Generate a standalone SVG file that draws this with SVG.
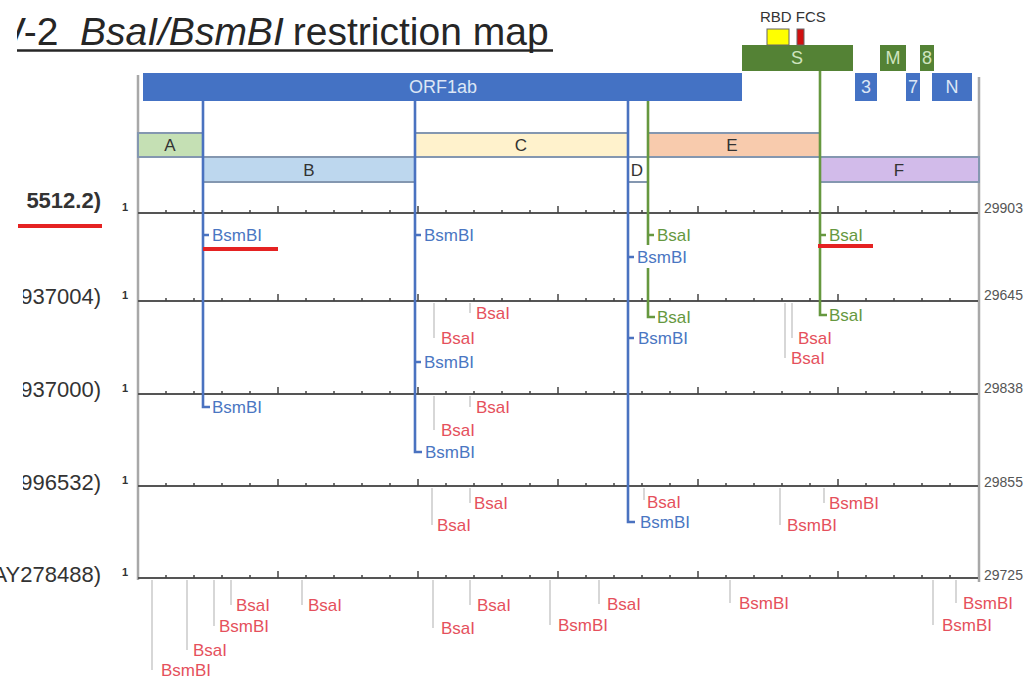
<svg xmlns="http://www.w3.org/2000/svg" xmlns:xlink="http://www.w3.org/1999/xlink" width="1026" height="679" viewBox="0 0 1026 679">
<defs>
<style>
text{font-family:"Liberation Sans",Arial,sans-serif}
.site{font-size:17px}
.r{fill:#e5505c}
.b{fill:#4a76c2}
.g{fill:#66983f}
.ld{stroke:#c2c2c2;stroke-width:1.3;fill:none}
.bl{stroke:#4a72c0;stroke-width:2.6;fill:none}
.gl{stroke:#66983f;stroke-width:2.6;fill:none}
.ax{stroke:#555;stroke-width:2}
.tk{stroke:#444;stroke-width:1.5;fill:none}
.fr{stroke:#a8a8a8;stroke-width:2.5}
.seg{stroke:#8497b0;stroke-width:2}
.ul{stroke:#e52222;stroke-width:4}
.gene{font-size:18px;text-anchor:middle}
.gb{fill:#dce6f5}
.gg{fill:#cfe4bf}
.segt{font-size:17px;text-anchor:middle;fill:#333}
.one{font-size:11px;font-weight:bold;text-anchor:middle;fill:#333}
.len{font-size:14px;fill:#555}
.acc{font-size:22px;text-anchor:end;fill:#333}
</style>
<clipPath id="clipTitle"><rect x="17" y="0" width="600" height="70"/></clipPath>
<clipPath id="clipAcc"><rect x="23" y="270" width="100" height="240"/></clipPath>
<path id="ticks" class="tk" d="M166 0v-3M194 0v-3M222 0v-3M250 0v-3M278 0v-7M306 0v-3M334 0v-3M362 0v-3M390 0v-3M418 0v-7M446 0v-3M474 0v-3M502 0v-3M530 0v-3M558 0v-7M586 0v-3M614 0v-3M642 0v-3M670 0v-3M698 0v-7M726 0v-3M754 0v-3M782 0v-3M810 0v-3M838 0v-7M866 0v-3M894 0v-3M922 0v-3M950 0v-3"/>
</defs>
<rect width="1026" height="679" fill="#fff"/>

<g id="title">
<g clip-path="url(#clipTitle)">
<text y="45" font-size="39" fill="#262626"><tspan x="0">V-2 </tspan><tspan x="80" font-style="italic">BsaI/BsmBI</tspan><tspan x="282"> restriction map</tspan></text>
</g>
<line x1="17" y1="50.5" x2="553" y2="50.5" stroke="#262626" stroke-width="2.5"/>
</g>

<g id="frame">
<line class="fr" x1="138" y1="75" x2="138" y2="580"/>
<line class="fr" x1="979" y1="77" x2="979" y2="582"/>
</g>

<g id="genes">
<g id="orf1ab"><rect x="143" y="73" width="599" height="28" fill="#4472c4"/><text class="gene gb" x="443" y="93">ORF1ab</text></g>
<g id="gene-s"><rect x="742" y="45" width="111" height="26" fill="#548235"/><text class="gene gg" x="797" y="64">S</text></g>
<g id="rbd"><rect x="767" y="29" width="22" height="16" fill="#ffff00" stroke="#666" stroke-width="1"/></g>
<g id="fcs"><rect x="797" y="29" width="7" height="16" fill="#d01010" stroke="#666" stroke-width="1"/></g>
<g id="rbd-fcs-label"><text x="760" y="22" font-size="15" fill="#333">RBD FCS</text></g>
<g id="gene-m"><rect x="880" y="45" width="26" height="26" fill="#548235"/><text class="gene gg" x="893" y="64">M</text></g>
<g id="gene-8"><rect x="920" y="45" width="14" height="26" fill="#548235"/><text class="gene gg" x="927" y="64">8</text></g>
<g id="gene-3"><rect x="855" y="73" width="22" height="28" fill="#4472c4"/><text class="gene gb" x="866" y="93">3</text></g>
<g id="gene-7"><rect x="906" y="73" width="14" height="28" fill="#4472c4"/><text class="gene gb" x="913" y="93">7</text></g>
<g id="gene-n"><rect x="932" y="73" width="40" height="28" fill="#4472c4"/><text class="gene gb" x="952" y="93">N</text></g>
</g>

<g id="segments">
<g id="seg-a"><rect class="seg" x="138" y="133" width="65" height="24" fill="#c5e0b4"/><text class="segt" x="170" y="151">A</text></g>
<g id="seg-c"><rect class="seg" x="415" y="133" width="213" height="24" fill="#fff2cc"/><text class="segt" x="521" y="151">C</text></g>
<g id="seg-e"><rect class="seg" x="648" y="133" width="172" height="24" fill="#f8cbad"/><text class="segt" x="732" y="151">E</text></g>
<g id="seg-b"><rect class="seg" x="203" y="157" width="212" height="25" fill="#bdd7ee"/><text class="segt" x="309" y="176">B</text></g>
<g id="seg-d"><rect class="seg" x="628" y="157" width="20" height="25" fill="#fff"/><text class="segt" x="637" y="176">D</text></g>
<g id="seg-f"><rect class="seg" x="820" y="157" width="159" height="25" fill="#d2bbea"/><text class="segt" x="899" y="176">F</text></g>
</g>

<g id="genomes">
<g id="row1"><line class="ax" x1="138" y1="213" x2="978" y2="213"/><use xlink:href="#ticks" y="213"/><text class="one" x="125" y="211">1</text><text class="len" x="984" y="213">29903</text><text class="acc" x="101" y="208" font-weight="bold" font-size="23">5512.2)</text><line class="ul" x1="18" y1="226" x2="102" y2="226"/></g>
<g id="row2"><line class="ax" x1="138" y1="301" x2="978" y2="301"/><use xlink:href="#ticks" y="301"/><text class="one" x="125" y="299">1</text><text class="len" x="984" y="300">29645</text><text class="acc" x="101" y="304" clip-path="url(#clipAcc)">937004)</text></g>
<g id="row3"><line class="ax" x1="138" y1="394" x2="978" y2="394"/><use xlink:href="#ticks" y="394"/><text class="one" x="125" y="392">1</text><text class="len" x="984" y="393">29838</text><text class="acc" x="101" y="397" clip-path="url(#clipAcc)">937000)</text></g>
<g id="row4"><line class="ax" x1="138" y1="486" x2="978" y2="486"/><use xlink:href="#ticks" y="486"/><text class="one" x="125" y="484">1</text><text class="len" x="984" y="487">29855</text><text class="acc" x="101" y="490" clip-path="url(#clipAcc)">996532)</text></g>
<g id="row5"><line class="ax" x1="138" y1="578" x2="978" y2="578"/><use xlink:href="#ticks" y="578"/><text class="one" x="125" y="576">1</text><text class="len" x="984" y="580">29725</text><text class="acc" x="101" y="582">AY278488)</text></g>
</g>

<g id="connectors">
<path class="bl" d="M203 101V407H210M203 235H209"/>
<path class="bl" d="M415 101V452H422M415 235H421M415 362H421"/>
<path class="bl" d="M628 101V522H635M628 257H634M628 338H634"/>
<path class="gl" d="M648 101V245M648 268V317H655M648 235H654"/>
<path class="gl" d="M820 71V315H827M820 235H826"/>
<path class="ld" d="M470 303V313M434 303V338M792 303V338M785 303V358"/>
<path class="ld" d="M470 396V407M434 396V430"/>
<path class="ld" d="M470 488V503M432 488V525M644 488V500M780 488V525M824 488V503"/>
<path class="ld" d="M152 580V670M187 580V650M214 580V626M231 580V605M302 580V605M433 580V628M470 580V605M550 580V625M599 580V604M730 580V603M933 580V625M956 580V603"/>
<line class="ul" x1="203" y1="249" x2="278" y2="249"/>
<line class="ul" x1="818" y1="246" x2="873" y2="246"/>
</g>

<g id="sites">
<g id="sites-row1">
<text class="site b" x="212" y="241">BsmBI</text>
<text class="site b" x="424" y="241">BsmBI</text>
<text class="site b" x="637" y="263">BsmBI</text>
<text class="site g" x="657" y="241">BsaI</text>
<text class="site g" x="829" y="241">BsaI</text>
</g>
<g id="sites-row2">
<text class="site g" x="657" y="323">BsaI</text>
<text class="site g" x="829" y="321">BsaI</text>
<text class="site b" x="424" y="368">BsmBI</text>
<text class="site b" x="638" y="344">BsmBI</text>
<text class="site r" x="476" y="319">BsaI</text>
<text class="site r" x="441" y="344">BsaI</text>
<text class="site r" x="798" y="344">BsaI</text>
<text class="site r" x="791" y="364">BsaI</text>
</g>
<g id="sites-row3">
<text class="site b" x="212" y="413">BsmBI</text>
<text class="site b" x="425" y="458">BsmBI</text>
<text class="site r" x="476" y="413">BsaI</text>
<text class="site r" x="441" y="436">BsaI</text>
</g>
<g id="sites-row4">
<text class="site b" x="640" y="528">BsmBI</text>
<text class="site r" x="474" y="509">BsaI</text>
<text class="site r" x="437" y="531">BsaI</text>
<text class="site r" x="647" y="508">BsaI</text>
<text class="site r" x="787" y="531">BsmBI</text>
<text class="site r" x="829" y="509">BsmBI</text>
</g>
<g id="sites-row5">
<text class="site r" x="161" y="676">BsmBI</text>
<text class="site r" x="193" y="656">BsaI</text>
<text class="site r" x="219" y="632">BsmBI</text>
<text class="site r" x="236" y="611">BsaI</text>
<text class="site r" x="308" y="611">BsaI</text>
<text class="site r" x="441" y="634">BsaI</text>
<text class="site r" x="477" y="611">BsaI</text>
<text class="site r" x="558" y="631">BsmBI</text>
<text class="site r" x="607" y="610">BsaI</text>
<text class="site r" x="739" y="609">BsmBI</text>
<text class="site r" x="942" y="631">BsmBI</text>
<text class="site r" x="963" y="609">BsmBI</text>
</g>
</g>
</svg>
